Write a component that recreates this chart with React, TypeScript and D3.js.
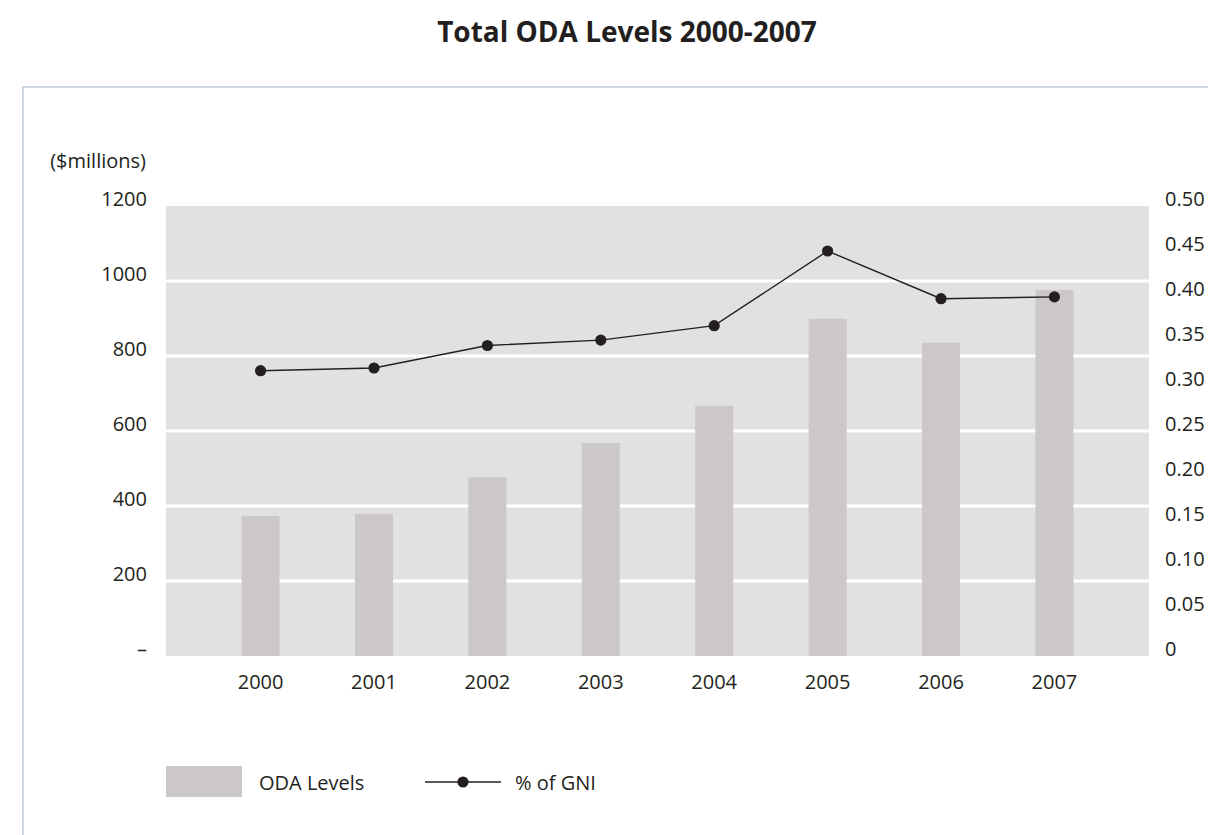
import React from "react";
import * as d3 from "d3";

const years = ["2000", "2001", "2002", "2003", "2004", "2005", "2006", "2007"];
const odaLevels = [373, 379, 477, 568, 667, 899, 835, 976];
const gniPercent = [0.317, 0.32, 0.345, 0.351, 0.367, 0.45, 0.397, 0.399];
const leftTicks = [0, 200, 400, 600, 800, 1000, 1200];
const rightTicks = [0, 0.05, 0.1, 0.15, 0.2, 0.25, 0.3, 0.35, 0.4, 0.45, 0.5];

const W = 1208;
const H = 835;
const FONT = "'Open Sans', 'Noto Sans', sans-serif";
const FS = 20;

export default function App() {
  const plotLeft = 166;
  const plotRight = 1149;
  const plotTop = 206;
  const plotBottom = 656;

  const x = d3.scalePoint<string>().domain(years).range([plotLeft, plotRight]).padding(0.834);
  const yL = d3.scaleLinear().domain([0, 1200]).range([plotBottom, plotTop]);
  const yR = d3.scaleLinear().domain([0, 0.5]).range([plotBottom, plotTop]);
  const barW = 38;

  const line = d3
    .line<number>()
    .x((_, i) => x(years[i]) as number)
    .y((d) => yR(d));

  const textColor = "#231f20";

  return (
    <svg width={W} height={H} style={{ position: "absolute", left: 0, top: 0 }}>
      <rect x={0} y={0} width={W} height={H} fill="#ffffff" />
      <text x={627} y={42} textAnchor="middle" fontFamily={FONT} fontWeight={700} fontSize={28} fill={textColor}>
        Total ODA Levels 2000-2007
      </text>
      {/* frame */}
      <line x1={23} y1={87} x2={W} y2={87} stroke="#cfd8e1" strokeWidth={2} />
      <line x1={23} y1={86} x2={23} y2={H} stroke="#cfd8e1" strokeWidth={2} />

      {/* plot background */}
      <rect x={plotLeft} y={plotTop} width={plotRight - plotLeft} height={plotBottom - plotTop} fill="#e1e1e0" />
      {leftTicks
        .filter((t) => t > 0 && t < 1200)
        .map((t) => (
          <line key={t} x1={plotLeft} x2={plotRight} y1={yL(t)} y2={yL(t)} stroke="#ffffff" strokeWidth={3} />
        ))}

      {/* bars */}
      {odaLevels.map((v, i) => (
        <rect
          key={years[i]}
          x={(x(years[i]) as number) - barW / 2}
          y={yL(v)}
          width={barW}
          height={plotBottom - yL(v)}
          fill="#ccc8c7"
        />
      ))}

      {/* line */}
      <path d={line(gniPercent) || ""} fill="none" stroke={textColor} strokeWidth={1.4} />
      {gniPercent.map((v, i) => (
        <circle key={years[i]} cx={x(years[i]) as number} cy={yR(v)} r={5.6} fill={textColor} />
      ))}

      {/* left axis */}
      <text x={146} y={168} textAnchor="end" fontFamily={FONT} fontSize={FS} fill={textColor}>
        ($millions)
      </text>
      {leftTicks.map((t) => (
        <text key={t} x={147} y={yL(t)} textAnchor="end" fontFamily={FONT} fontSize={FS} fill={textColor}>
          {t === 0 ? "–" : String(t)}
        </text>
      ))}

      {/* right axis */}
      {rightTicks.map((t) => (
        <text key={t} x={1165} y={yR(t)} textAnchor="start" fontFamily={FONT} fontSize={FS} fill={textColor}>
          {t === 0 ? "0" : d3.format(".2f")(t)}
        </text>
      ))}

      {/* x axis labels */}
      {years.map((yr) => (
        <text key={yr} x={x(yr) as number} y={689} textAnchor="middle" fontFamily={FONT} fontSize={FS} fill={textColor}>
          {yr}
        </text>
      ))}

      {/* legend */}
      <rect x={166} y={766} width={76} height={31} fill="#ccc8c7" />
      <text x={259} y={790} fontFamily={FONT} fontSize={FS} fill={textColor}>
        ODA Levels
      </text>
      <line x1={425} x2={501} y1={782} y2={782} stroke={textColor} strokeWidth={1.4} />
      <circle cx={463} cy={782} r={5.6} fill={textColor} />
      <text x={515} y={790} fontFamily={FONT} fontSize={FS} fill={textColor}>
        % of GNI
      </text>
    </svg>
  );
}
